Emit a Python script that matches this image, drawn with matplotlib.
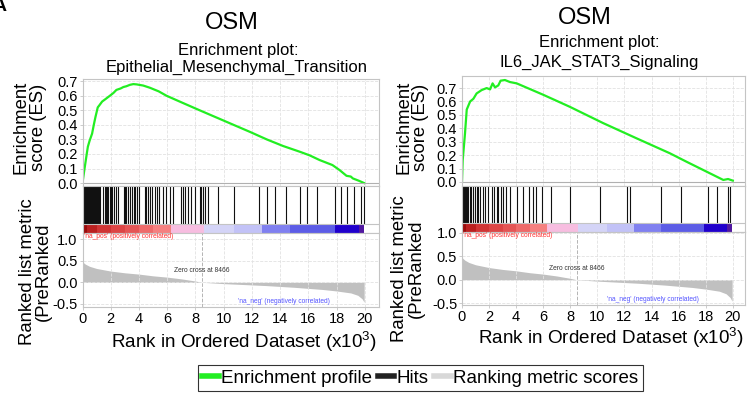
import matplotlib
matplotlib.use('Agg')
import matplotlib.pyplot as plt
from matplotlib.lines import Line2D

plt.rcParams['font.family'] = ['Liberation Sans', 'DejaVu Sans']
plt.rcParams['mathtext.fontset'] = 'custom'
plt.rcParams['mathtext.rm'] = 'Liberation Sans'
plt.rcParams['mathtext.it'] = 'Liberation Sans'
plt.rcParams['axes.unicode_minus'] = False

# ---------------- data (ranks in thousands) ----------------
es1_rank = [0, 0.1, 0.2, 0.3, 0.38, 0.5, 0.68, 0.8, 0.92, 1.08, 1.2, 1.39, 1.6, 1.94,
            2.2, 2.4, 2.7, 2.9, 3.1, 3.36, 3.6, 3.83, 4.3, 4.77, 5.4, 5.95, 7.0, 8.3,
            9.5, 10.7, 11.9, 13.05, 14.2, 15.4, 16.1, 16.8, 17.7, 18.2, 18.7, 19.0,
            19.15, 19.6, 19.95]
es1_val = [0, 0.07, 0.135, 0.2, 0.25, 0.29, 0.34, 0.40, 0.455, 0.52, 0.535, 0.56,
           0.575, 0.60, 0.62, 0.64, 0.65, 0.66, 0.665, 0.675, 0.68, 0.678, 0.67,
           0.655, 0.63, 0.60, 0.555, 0.50, 0.45, 0.40, 0.35, 0.30, 0.255, 0.215,
           0.19, 0.158, 0.124, 0.09, 0.05, 0.045, 0.032, 0.015, 0.0]

es2_rank = [0, 0.05, 0.22, 0.35, 0.6, 0.84, 1.08, 1.45, 1.82, 2.07, 2.26, 2.44,
            2.68, 2.85, 3.17, 3.54, 4.04, 6.0, 7.97, 10.4, 12.9, 15.35, 16.6, 17.8,
            18.8, 19.3, 19.65, 20.0]
es2_val = [0, 0.16, 0.36, 0.54, 0.60, 0.62, 0.66, 0.685, 0.70, 0.69, 0.735, 0.705,
           0.72, 0.755, 0.76, 0.745, 0.735, 0.65, 0.56, 0.44, 0.325, 0.214, 0.15,
           0.09, 0.04, 0.015, 0.022, 0.01]

hits1 = [0.02, 0.05, 0.09, 0.12, 0.16, 0.2, 0.24, 0.28, 0.31, 0.35, 0.4, 0.44, 0.48,
         0.52, 0.57, 0.61, 0.66, 0.7, 0.75, 0.8, 0.86, 0.92, 0.97, 1.03, 1.1, 1.17,
         1.24, 1.45, 1.58, 1.66, 1.75, 1.83, 1.92, 2.02, 2.12, 2.25, 2.38, 2.48,
         2.92, 3.0, 3.1, 3.22, 3.35, 3.5, 3.62, 3.75, 3.88, 4.02, 4.4, 4.52, 4.65,
         4.8, 4.92, 5.12, 5.3, 5.42, 5.72, 5.88, 6.2, 6.4, 7.0, 7.12, 7.28, 7.5,
         7.72, 8.0, 8.3, 8.42, 8.55, 8.7, 8.88, 9.6, 10.7, 12.5, 13.1, 13.6, 14.4,
         15.4, 15.9, 16.6, 17.9, 18.3, 18.7, 19.2, 19.7, 19.95]

hits2 = [0.02, 0.06, 0.1, 0.14, 0.18, 0.22, 0.27, 0.32, 0.37, 0.42, 0.6, 0.7, 0.84,
         0.96, 1.08, 1.2, 1.33, 1.57, 1.7, 1.94, 2.19, 2.4, 2.55, 2.68, 2.9, 3.05,
         3.27, 3.54, 4.04, 4.5, 4.95, 5.24, 5.5, 5.9, 6.6, 7.97, 10.2, 12.15, 12.4,
         14.7, 16.2, 18.2, 18.8, 19.65, 19.8]

metric_rank = [0, 0.05, 0.2, 0.5, 1.0, 2.0, 3.0, 4.0, 5.0, 6.0, 7.0, 8.0, 8.466, 9.0,
               10.0, 11.0, 12.0, 13.0, 14.0, 15.0, 16.0, 17.0, 18.0, 19.0, 19.5,
               19.8, 19.95]
metric_val = [0.5, 0.46, 0.42, 0.37, 0.32, 0.26, 0.22, 0.19, 0.15, 0.12, 0.08, 0.03,
              0.0, -0.01, -0.03, -0.045, -0.06, -0.075, -0.095, -0.115, -0.14,
              -0.165, -0.2, -0.245, -0.3, -0.38, -0.46]
zero_cross = 8.466

heat_left = [0, 0.3, 1.0, 2.0, 3.0, 4.0, 5.0, 6.3, 8.6, 10.7, 12.7, 14.7, 17.9, 19.6]
heat_width = [0.3, 0.7, 1.0, 1.0, 1.0, 1.0, 1.3, 2.3, 2.1, 2.0, 2.0, 3.2, 1.7, 0.35]
heat_colors = ['#9a0c0c', '#bb2020', '#d03535', '#dd4545', '#e55555', '#ee6a6a',
               '#f58080', '#f7bde0', '#d4d4f7', '#c2c2f7', '#8080f0', '#5c5ce6',
               '#2000cc', '#5018a0']

xticks = [0, 2, 4, 6, 8, 10, 12, 14, 16, 18, 20]
es_ticks = [0.0, 0.1, 0.2, 0.3, 0.4, 0.5, 0.6, 0.7]
met_ticks = [1.0, 0.5, 0.0, -0.5]

titles = ['Epithelial_Mesenchymal_Transition', 'IL6_JAK_STAT3_Signaling']

# ---------------- layout ----------------
W, H = 747, 393
fig = plt.figure(figsize=(W / 100, H / 100), dpi=100)


def rect(x0, x1, y0, y1):
    return [x0 / W, 1 - y1 / H, (x1 - x0) / W, (y1 - y0) / H]


SP = '#c4c4c4'
GRID = dict(color='#e2e2e2', linestyle='--', linewidth=0.6)
TICKFS = 10.5

panels = [
    dict(x0=82.5, x1=379, es=(79, 186), hitbox=(186, 233), met=(233, 307),
         xlim=(0, 21.0), esy=(-0.02, 0.715), mety=(-0.57, 1.14),
         es_r=es1_rank, es_v=es1_val, hitpos=hits1),
    dict(x0=462, x1=745, es=(76, 186), hitbox=(186, 232), met=(232, 305),
         xlim=(0, 20.9), esy=(-0.03, 0.79), mety=(-0.54, 1.02),
         es_r=es2_rank, es_v=es2_val, hitpos=hits2),
]


def style(ax):
    for s in ax.spines.values():
        s.set_color(SP)
        s.set_linewidth(0.8)
    ax.tick_params(colors='black', labelsize=TICKFS, length=2, width=0.6,
                   pad=1.5)
    ax.tick_params(axis='both', color=SP)


for p in panels:
    # ES panel
    ax = fig.add_axes(rect(p['x0'], p['x1'], *p['es']))
    ax.plot(p['es_r'], p['es_v'], color='#22ee22', linewidth=1.6)
    ax.set_xlim(*p['xlim'])
    ax.set_ylim(*p['esy'])
    ax.set_xticks(xticks)
    ax.set_xticklabels([])
    ax.set_yticks(es_ticks)
    ax.set_yticklabels(['%.1f' % t for t in es_ticks])
    ax.grid(True, **GRID)
    ax.axhline(0, color='#b0b0b0', linewidth=0.8)
    style(ax)

    # hits panel
    axh = fig.add_axes(rect(p['x0'], p['x1'], *p['hitbox']))
    axh.vlines(p['hitpos'], 0.2, 1.0, color='#111111', linewidth=0.8)
    axh.bar(heat_left, [0.2] * len(heat_left), width=heat_width, bottom=0,
            align='edge', color=heat_colors, linewidth=0)
    axh.axhline(0.2, color=SP, linewidth=0.8)
    axh.set_xlim(*p['xlim'])
    axh.set_ylim(0, 1)
    axh.set_xticks([])
    axh.set_yticks([])
    style(axh)

    # ranked metric panel
    axm = fig.add_axes(rect(p['x0'], p['x1'], *p['met']))
    axm.fill_between(metric_rank, metric_val, 0, color='#c0c0c0', linewidth=0)
    axm.axvline(zero_cross, color='#b4b4b4', linestyle='--', linewidth=0.7)
    axm.set_xlim(*p['xlim'])
    axm.set_ylim(*p['mety'])
    axm.set_xticks(xticks)
    axm.set_xticklabels([str(t) for t in xticks])
    axm.set_yticks(met_ticks)
    axm.set_yticklabels(['%.1f' % t for t in met_ticks])
    axm.grid(True, **GRID)
    style(axm)
    axm.text(0.005, 0.995, "'na_pos' (positively correlated)", color='#ff3333',
             fontsize=4.8, transform=axm.transAxes, ha='left', va='top')
    axm.text(zero_cross, 0.5, 'Zero cross at 8466', color='#333333',
             fontsize=4.8, transform=axm.get_xaxis_transform(), ha='center',
             va='center')
    axm.text(17.5, 0.03, "'na_neg' (negatively correlated)", color='#5555ff',
             fontsize=4.8, transform=axm.get_xaxis_transform(), ha='right',
             va='bottom')

# ---------------- texts ----------------
def ftext(px, py, s, **kw):
    fig.text(px / W, 1 - py / H, s, **kw)


ftext(232, 23, 'OSM', fontsize=17, ha='center', va='center')
ftext(238, 50, 'Enrichment plot:', fontsize=12, ha='center', va='center')
ftext(237, 67, titles[0], fontsize=12, ha='center', va='center')
ftext(585, 18, 'OSM', fontsize=17, ha='center', va='center')
ftext(599, 43, 'Enrichment plot:', fontsize=12, ha='center', va='center')
ftext(599, 62, titles[1], fontsize=12, ha='center', va='center')

ftext(30, 127, 'Enrichment\nscore (ES)', fontsize=13.3, rotation=90,
      ha='center', va='center', multialignment='center', linespacing=1.05)
ftext(412, 127, 'Enrichment\nscore (ES)', fontsize=13.3, rotation=90,
      ha='center', va='center', multialignment='center', linespacing=0.95)
ftext(35.5, 272, 'Ranked list metric\n(PreRanked', fontsize=13.3, rotation=90,
      ha='center', va='center', multialignment='center', linespacing=0.95)
ftext(408, 269, 'Ranked list metric\n(PreRanked', fontsize=13.3, rotation=90,
      ha='center', va='center', multialignment='center', linespacing=1.05)

ftext(244, 342, r'Rank in Ordered Dataset (x10$^{3}$)', fontsize=13.6,
      ha='center', va='center')
ftext(611, 338, r'Rank in Ordered Dataset (x10$^{3}$)', fontsize=13.6,
      ha='center', va='center')

ftext(-7, -2, 'A', fontsize=14, fontweight='bold', ha='left', va='top')

handles = [Line2D([], [], color='#22ee22', linewidth=4),
           Line2D([], [], color='#222222', linewidth=4),
           Line2D([], [], color='#d8d8d8', linewidth=4)]
labels = ['Enrichment profile', 'Hits', 'Ranking metric scores']
leg = fig.legend(handles, labels, loc='center', ncol=3,
                 bbox_to_anchor=(420 / W, 1 - 378 / H), fontsize=13.5,
                 frameon=True, fancybox=False, edgecolor='black',
                 handlelength=0.9, handletextpad=0.1, columnspacing=0.3,
                 borderpad=0.25, borderaxespad=0)
leg.get_frame().set_linewidth(0.8)

fig.savefig('out.png', dpi=100)
